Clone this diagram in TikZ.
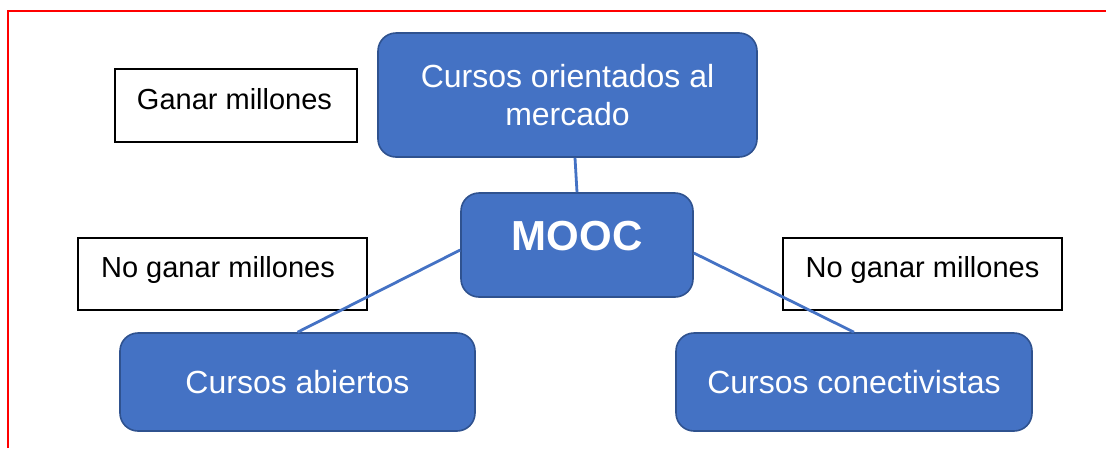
\documentclass[tikz,border=0pt]{standalone}
\usepackage{fontspec}
\setmainfont{Liberation Sans}
\definecolor{mblue}{HTML}{4472C4}
\definecolor{mborder}{HTML}{2F528F}
\definecolor{frame}{HTML}{FF0000}
\begin{document}
\begin{tikzpicture}[x=1pt,y=-1pt,
  bluebox/.style={draw=mborder, fill=mblue, line width=1.6pt, rounded corners=18pt,
    text=white, align=center, inner sep=0pt},
  whitebox/.style={draw=black, fill=white, line width=1.3pt, inner sep=0pt,
    font=\fontsize{29}{35}\selectfont},
  bigtext/.style={font=\fontsize{32}{38}\selectfont},
  conn/.style={draw=mblue, line width=2.8pt}]
\useasboundingbox (0,0) rectangle (1106,448);
\draw[frame, line width=2pt] (8,448) -- (8,11) -- (1106,11);

\node[whitebox, minimum width=242pt, minimum height=73pt, text height=21pt, text depth=14pt]
  (gm) at (236,105.5) {\hspace*{-3pt}Ganar millones};
\node[whitebox, minimum width=289pt, minimum height=72pt, text height=21pt, text depth=15pt]
  (ngl) at (222.5,274) {\hspace*{-9pt}No ganar millones};
\node[whitebox, minimum width=279pt, minimum height=72pt, text height=21pt, text depth=15pt]
  (ngr) at (922.5,274) {No ganar millones};

\node[bluebox, bigtext, minimum width=379pt, minimum height=124pt]
  (com) at (567.5,95) {Cursos orientados al\\mercado};
\node[bluebox, font=\bfseries\fontsize{42}{50}\selectfont, minimum width=232pt, minimum height=104pt,
  text height=30pt, text depth=20pt]
  (mooc) at (577,245) {MOOC};
\node[bluebox, bigtext, minimum width=355pt, minimum height=98pt]
  (ca) at (297.5,382) {Cursos abiertos};
\node[bluebox, bigtext, minimum width=356pt, minimum height=98pt]
  (cc) at (854,382) {Cursos conectivistas};

\draw[conn] ([xshift=7.5pt]com.south) -- (mooc.north);
\draw[conn] ([yshift=-5pt]mooc.west) -- (ca.north);
\draw[conn] ([yshift=-8pt]mooc.east) -- (cc.north);
\end{tikzpicture}
\end{document}
